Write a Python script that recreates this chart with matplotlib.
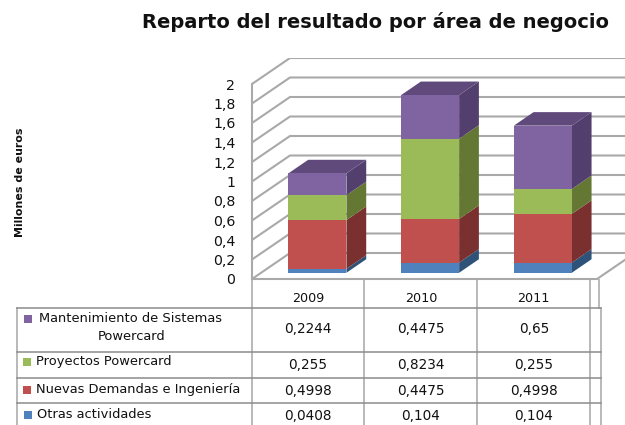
"""Stacked 3D-look column chart with a data table underneath."""

import matplotlib

matplotlib.use("Agg")
import matplotlib.pyplot as plt
from matplotlib.patches import Polygon

YEARS = ["2009", "2010", "2011"]
OTRAS = [0.0408, 0.104, 0.104]
NUEVAS = [0.4998, 0.4475, 0.4998]
PROYECTOS = [0.255, 0.8234, 0.255]
MANTENIMIENTO = [0.2244, 0.4475, 0.65]
Y_TICKS = [0, 0.2, 0.4, 0.6, 0.8, 1, 1.2, 1.4, 1.6, 1.8, 2]

W, H = 625, 425
X0, Y0 = 252, 279          # front-left corner of the floor, in pixels
PX_X = 112.67              # pixels per category
PX_Y = 97.5                # pixels per y unit
TOP_PX = 58

GRID = "#a9a9a9"
LINE = "#a6a6a6"
INK = "#111111"

# bottom to top: values, front colour, side colour
SERIES = [
    (OTRAS, "#4f81bd", "#2f5279"),
    (NUEVAS, "#c0504d", "#7a302e"),
    (PROYECTOS, "#9bbb59", "#647833"),
    (MANTENIMIENTO, "#8064a2", "#533f6e"),
]
TOP_COLOR = "#604a7b"

plt.rcParams.update({"font.family": "DejaVu Sans", "text.color": INK,
                     "xtick.labelcolor": INK, "ytick.labelcolor": INK})

fig = plt.figure(figsize=(W / 100, H / 100), dpi=100, facecolor="white")

# Chart axes: y 0..2 sits on the front wall edge, depth is faked with offsets.
ax = fig.add_axes([X0 / W, 1 - Y0 / H, (W - X0) / W, (Y0 - TOP_PX) / H])
ax.set_xlim(0, (W - X0) / PX_X)
ax.set_ylim(0, (Y0 - TOP_PX) / PX_Y)
for spine in ax.spines.values():
    spine.set_visible(False)


def depth(frac):
    """Depth offset in data units; frac 1 is the full wall depth."""
    return 38 * frac / PX_X, 26 * frac / PX_Y


wx, wy = depth(1)
xmax = ax.get_xlim()[1]
for t in Y_TICKS:
    ax.plot([0, wx, xmax], [t, t + wy, t + wy], color=GRID, lw=1.5, zorder=1,
            solid_joinstyle="miter")
ax.plot([0, 0], [0, 2], color=GRID, lw=1.5, zorder=1, clip_on=False)
ax.plot([0, 345 / PX_X, 345 / PX_X + wx], [0, 0, wy], color=GRID, lw=1.5, zorder=1,
        clip_on=False)

# Columns.
bar_w = 58 / PX_X
ox, oy = depth(0.24)
dx, dy = depth(0.52)
for i in range(len(YEARS)):
    left = i + 0.5 - bar_w / 2 + ox
    right = left + bar_w
    base = oy
    for values, front, side in SERIES:
        top = base + values[i]
        ax.add_patch(Polygon([(right, base), (right + dx, base + dy),
                              (right + dx, top + dy), (right, top)],
                             facecolor=side, edgecolor="none", zorder=3))
        ax.bar(left, values[i], width=bar_w, bottom=base, align="edge",
               color=front, zorder=4)
        base = top
    ax.add_patch(Polygon([(left, base), (right, base),
                          (right + dx, base + dy), (left + dx, base + dy)],
                         facecolor=TOP_COLOR, edgecolor="none", zorder=3))

ax.set_yticks(Y_TICKS, [f"{t:g}".replace(".", ",") for t in Y_TICKS])
ax.set_xticks([0.5, 1.5, 2.5], YEARS)
ax.tick_params(axis="both", length=0, labelsize=10.2)
ax.tick_params(axis="y", pad=12)
ax.tick_params(axis="x", pad=9, labelsize=9.2)

# Table, drawn on a full-figure axes in pixel coordinates.
tb = fig.add_axes([0, 0, 1, 1], zorder=-1)
tb.set_xlim(0, W)
tb.set_ylim(H, 0)
tb.axis("off")

for x in (252, 364, 477, 590):
    tb.plot([x, x], [279, H], color=LINE, lw=1.1)
tb.plot([599, 599], [279, 308], color=LINE, lw=1.1)
tb.plot([17, 17], [308, H], color=LINE, lw=1.1)
tb.plot([601, 601], [308, H], color=LINE, lw=1.1)
for y in (308, 352, 378, 403):
    tb.plot([17, 601], [y, y], color="#8c8c8c", lw=1.1)

ROW_Y = [329, 365, 391, 416]
COL_X = [308, 421, 534]
for row_y, (values, _, _) in zip(ROW_Y, reversed(SERIES)):
    for col_x, v in zip(COL_X, values):
        tb.text(col_x, row_y, f"{v:g}".replace(".", ","), ha="center", va="center",
                fontsize=9.8)

LABELS = [
    (39, 319, "Mantenimiento de Sistemas", 24, "#8064a2"),
    (36, 362, "Proyectos Powercard", 23, "#9bbb59"),
    (36, 390, "Nuevas Demandas e Ingeniería", 23, "#c0504d"),
    (37, 415, "Otras actividades", 24, "#4f81bd"),
]
for x, y, label, sx, color in LABELS:
    tb.text(x, y, label, ha="left", va="center", fontsize=9.4)
    tb.fill_between([sx, sx + 8], y - 4, y + 4, color=color, lw=0)
tb.text(132, 337, "Powercard", ha="center", va="center", fontsize=9.4)

tb.text(375, 22, "Reparto del resultado por área de negocio", ha="center", va="center",
        fontsize=14, fontweight="bold")
tb.text(20, 182, "Millones de euros", rotation=90, ha="center", va="center",
        fontsize=7.9, fontweight="bold")

fig.savefig("out.png", dpi=100, facecolor="white")
